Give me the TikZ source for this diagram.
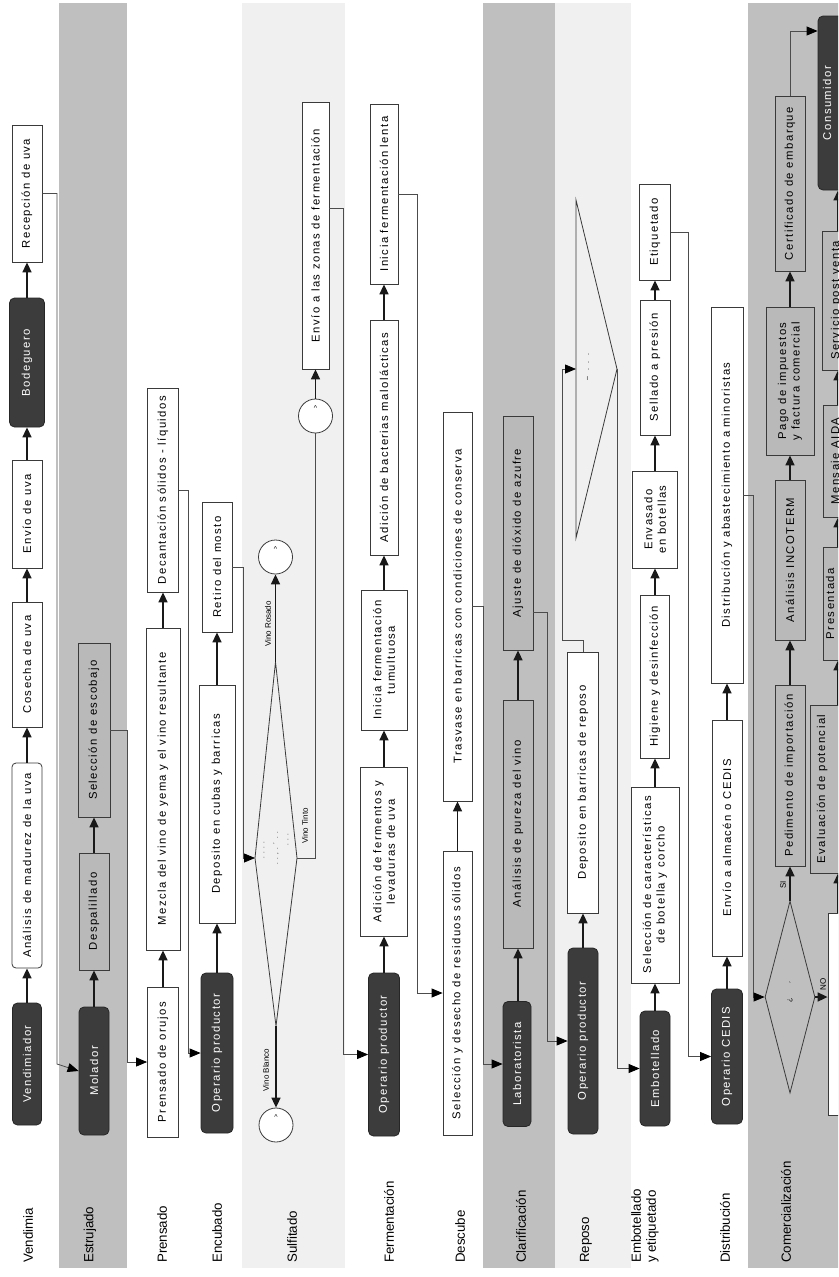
\documentclass[tikz,border=0pt]{standalone}
\usepackage{fontspec}
\setmainfont{Liberation Sans}
\newfontfamily\bxf{Liberation Sans}[LetterSpace=13]
\usetikzlibrary{arrows.meta,shapes.geometric}
\definecolor{lanegrey}{HTML}{BFBFBF}
\definecolor{lanelight}{HTML}{F0F0F0}
\definecolor{boxgrey}{HTML}{B9B9B9}
\definecolor{darkbox}{HTML}{3C3C3C}
\definecolor{edge}{HTML}{3A3A3A}
\newcommand\upby[2]{\raisebox{#1}[0pt][0pt]{#2}}
\begin{document}
\begin{tikzpicture}[x=1pt,y=-1pt,
  sz/.style 2 args={minimum width=#1pt, minimum height=#2pt},
  wbox/.style={draw=edge, line width=0.8pt, fill=white, rotate=90, inner sep=1pt, align=center, font=\bxf\fontsize{11.3}{13.5}\selectfont},
  gbox/.style={wbox, fill=boxgrey},
  rbox/.style={wbox, rounded corners=4pt},
  dbox/.style={wbox, fill=darkbox, draw=black!85, rounded corners=5pt, text=white},
  lane/.style={rotate=90, anchor=west, align=left, inner sep=0pt, font=\fontsize{13.3}{15}\selectfont},
  circ/.style={circle, draw=edge, line width=0.8pt, fill=white, minimum size=34pt, inner sep=0pt},
  arr/.style={line width=1.6pt, draw=black!90, -{Triangle[length=10pt,width=9pt]}},
  conn/.style={line width=0.8pt, draw=black!70, -{Triangle[length=11pt,width=9pt,color=black]}},
  plain/.style={line width=0.8pt, draw=black!70},
  tag/.style={rotate=90, font=\fontsize{8}{9}\selectfont, inner sep=0pt},
  cmark/.style={font=\fontsize{7}{7}\selectfont, inner sep=0pt},
]
\useasboundingbox (0,0) rectangle (838,1277);
\clip (0,0) rectangle (838,1277);
\fill[white] (0,0) rectangle (838,1277);
% lanes
\fill[lanegrey] (59,3) rectangle (127,1268);
\fill[lanelight] (242,3) rectangle (345,1268);
\fill[lanegrey] (483,3) rectangle (555,1268);
\fill[lanelight] (555,3) rectangle (631,1268);
\fill[lanegrey] (748,3) rectangle (845,1268);
% lane labels
\node[lane] (lVen) at (28,1263) {Vendimia};
\node[lane] (lEst) at (90,1263) {Estrujado};
\node[lane] (lPre) at (162,1263) {Prensado};
\node[lane] (lEnc) at (217,1263) {Encubado};
\node[lane] (lSul) at (292,1263) {Sulfitado};
\node[lane] (lFer) at (389,1263) {Fermentación};
\node[lane] (lDes) at (460,1263) {Descube};
\node[lane] (lCla) at (521,1263) {Clarificación};
\node[lane] (lRep) at (586,1263) {Reposo};
\node[lane] (lEmb) at (645,1263) {Embotellado\\y etiquetado};
\node[lane] (lDis) at (725,1263) {Distribución};
\node[lane] (lCom) at (786,1263) {Comercialización};
% Vendimia
\node[wbox, sz={137}{30}] (rec) at (27,193.5) {Recepción de uva};
\node[dbox, sz={129}{35}] (bod) at (27,362.5) {Bodeguero};
\node[wbox, sz={108}{30}] (env) at (27,514) {Envío de uva};
\node[wbox, sz={125}{30}] (cos) at (27,664.5) {Cosecha de uva};
\node[rbox, sz={205}{30}] (ana) at (27,865.5) {Análisis de madurez de la uva};
\node[dbox, sz={122}{29}] (vdr) at (27,1064) {Vendimiador};
% Estrujado
\node[dbox, sz={128}{30}] (mol) at (94,1071) {Molador};
\node[gbox, sz={117}{30}] (des) at (94,911.5) {Despalillado};
\node[gbox, sz={174}{32}] (esc) at (94,730) {Selección de escobajo};
% Prensado
\node[wbox, sz={150}{31}] (pre) at (163,1062) {Prensado de orujos};
\node[wbox, sz={322}{34}] (mez) at (163,789) {Mezcla del vino de yema y el vino resultante};
\node[wbox, sz={204}{31}] (dec) at (163,490) {Decantación sólidos - líquidos};
% Encubado
\node[dbox, sz={160}{32}] (op1) at (217,1053) {Operario productor};
\node[wbox, sz={238}{36}] (dcb) at (217,804) {Deposito en cubas y barricas};
\node[wbox, sz={130}{30}] (ret) at (217,567) {Retiro del mosto};
% Sulfitado
\coordinate (dT) at (275.5,662);
\coordinate (dL) at (255,858);
\coordinate (dB) at (276,1026);
\coordinate (dR) at (297,858);
\draw[draw=edge, line width=0.8pt] (dT) -- (dR) -- (dB) -- (dL) -- cycle;
\node[circ] (cRos) at (275.5,557) {};
\node[circ] (cBla) at (276,1125) {};
\node[circ] (cTin) at (315.5,416) {};
\node[cmark] (mRos) at (275.5,549) {\textasciicircum};
\node[cmark] (mBla) at (276,1117) {\textasciicircum};
\node[cmark] (mTin) at (315.5,408) {\textasciicircum};
\node[wbox, sz={267}{27}] (ezf) at (315.5,235.5) {Envío a las zonas de fermentación};
\node[tag] (tRos) at (268,624) {Vino Rosado};
\node[tag] (tBla) at (266,1070) {Vino Blanco};
\node[tag] (tTin) at (305,826) {Vino Tinto};
\node[tag, font=\fontsize{6}{7}\selectfont] (d1a) at (264,850) {.\ \ .\ \ .\ \ .};
\node[tag, font=\fontsize{6}{7}\selectfont] (d1b) at (276,848) {.\ \ .\ \ ,\ \ .\ \ ´\ \ .\ \ .};
\node[tag, font=\fontsize{6}{7}\selectfont] (d1c) at (288,840) {.\ \ .\ \ .};
% Fermentacion
\node[wbox, sz={180}{28}] (ifl) at (384,194) {Inicia fermentación lenta};
\node[wbox, sz={235}{28}] (abm) at (384,437.5) {Adición de bacterias malolácticas};
\node[wbox, sz={140}{46}] (ift) at (384,660) {Inicia fermentación\\tumultuosa};
\node[wbox, sz={169}{47}] (afl) at (384,851.5) {Adición de fermentos y\\levaduras de uva};
\node[dbox, sz={163}{31}] (fop) at (384,1054.5) {Operario productor};
% Descube
\node[wbox, sz={389}{29}] (tra) at (457.5,606.5) {Trasvase en barricas con condiciones de conserva};
\node[wbox, sz={284}{29}] (sdr) at (457.5,993) {Selección y desecho de residuos sólidos};
% Clarificacion
\node[dbox, sz={125}{28}] (lab) at (517,1064) {Laboratorista};
\node[gbox, sz={248}{30}] (apv) at (518,824) {Análisis de pureza del vino};
\node[gbox, sz={234}{30}] (ajs) at (518,533) {Ajuste de dióxido de azufre};
% Reposo
\node[dbox, sz={186}{30}] (rop) at (583,1041) {Operario productor};
\node[wbox, sz={261}{31}] (dbr) at (583,782.5) {Deposito en barricas de reposo};
\draw[draw=edge, line width=0.8pt] (576,200) -- (617,369) -- (576,538) -- cycle;
\coordinate (triB) at (576,369);
\coordinate (triA) at (617,369);
\coordinate (kR) at (562,640);
\node[tag, font=\fontsize{7}{8}\selectfont] (tdots) at (588,367) {--\ \ \ .\ \ \ .\ \ \ .};
% Embotellado
\node[dbox, sz={115}{30}] (emb) at (655,1068.5) {Embotellado};
\node[wbox, sz={196}{48}] (scb) at (655,885) {Selección de características\\de botella y corcho};
\node[wbox, sz={163}{29}] (hyd) at (655,676.5) {Higiene y desinfección};
\node[wbox, sz={97}{45}] (evb) at (655,519.5) {Envasado\\en botellas};
\node[wbox, sz={135}{30}] (sap) at (655,367.5) {Sellado a presión};
\node[wbox, sz={96}{31}] (eti) at (655,232) {Etiquetado};
% Distribucion
\node[dbox, sz={135}{31}] (ced) at (727,1056.5) {Operario CEDIS};
\node[wbox, sz={236}{30}] (eac) at (727,838) {Envío a almacén o CEDIS};
\node[wbox, sz={376}{32}] (dam) at (727,495) {Distribución y abastecimiento a minoristas};
% Comercializacion
\node[diamond, draw=edge, line width=0.8pt, minimum width=50pt, minimum height=192pt, inner sep=0pt] (dia2) at (790,997) {};
\node[tag, font=\fontsize{7}{8}\selectfont] (q1) at (790,1000) {¿};
\node[tag, font=\fontsize{7}{8}\selectfont] (q2) at (792,982) {´};
\node[gbox, sz={181}{30}] (ped) at (790,775.5) {Pedimento de importación};
\node[gbox, sz={160}{30}] (inc) at (790,560) {Análisis INCOTERM};
\node[gbox, sz={148}{48}] (pag) at (790,381) {Pago de impuestos\\y factura comercial};
\node[gbox, sz={175}{30}] (cer) at (790,183.5) {Certificado de embarque};
\node[dbox, sz={174}{40}] (con) at (838,103) {\upby{7pt}{Consumidor}};
\node[gbox, sz={139}{32}] (spv) at (838,300.5) {\upby{-1pt}{Servicio post venta}};
\node[gbox, sz={112}{30}] (aid) at (838,461) {\upby{-1pt}{Mensaje AIDA}};
\node[gbox, sz={113}{30}] (pst) at (838,603.5) {\upby{4pt}{Presentada}};
\node[gbox, sz={168}{56}] (evp) at (838,789) {\upby{13pt}{Evaluación de potencial}};
\node[wbox, sz={202}{20}] (nob) at (838,1014) {};
\node[tag] (tSI) at (783,885) {SI};
\node[tag] (tNO) at (823,984) {NO};
% arrows within lanes
\draw[arr] (vdr.east) -- (ana.west);
\draw[arr] (ana.east) -- (cos.west);
\draw[arr] (cos.east) -- (env.west);
\draw[arr] (env.east) -- (bod.west);
\draw[arr] (bod.east) -- (rec.west);
\draw[arr] (mol.east) -- (des.west);
\draw[arr] (des.east) -- (esc.west);
\draw[arr] (pre.east) -- (mez.west);
\draw[arr] (mez.east) -- (dec.west);
\draw[arr] (op1.east) -- (dcb.west);
\draw[arr] (dcb.east) -- (ret.west);
\draw[arr] (dT) -- (cRos.south);
\draw[arr] (dB) -- (cBla.north);
\draw[plain] (dR) -| (cTin.south);
\draw[arr] (cTin.north) -- (ezf.west);
\draw[arr] (fop.east) -- (afl.west);
\draw[arr] (afl.east) -- (ift.west);
\draw[arr] (ift.east) -- (abm.west);
\draw[arr] (abm.east) -- (ifl.west);
\draw[arr] (sdr.east) -- (tra.west);
\draw[arr] (lab.east -| apv.west) -- (apv.west);
\draw[arr] (apv.east) -- (ajs.west);
\draw[arr] (rop.east) -- (dbr.west);
\draw[arr] (emb.east) -- (scb.west);
\draw[arr] (scb.east) -- (hyd.west);
\draw[arr] (hyd.east) -- (evb.west);
\draw[arr] (evb.east) -- (sap.west);
\draw[arr] (sap.east) -- (eti.west);
\draw[arr] (ced.east) -- (eac.west);
\draw[arr] (eac.east) -- (dam.west);
\draw[arr] (dia2.north) -- (ped.west);
\draw[arr] (ped.east) -- (inc.west);
\draw[arr] (inc.east) -- (pag.west);
\draw[arr] (pag.east) -- (cer.west);
\draw[arr] (dia2.east) -- (dia2.east -| nob.north);
\draw[arr] (nob.east) -- (evp.west);
\draw[arr] (evp.east) -- (pst.west);
\draw[arr] (pst.east) -- (aid.west);
\draw[arr] (aid.east) -- (spv.west);
\draw[arr] (spv.east) -- (con.west);
% connectors between lanes
\draw[conn] (rec.south) -| (57,1064) -- (mol.north);
\draw[conn] (esc.south) -| (127,1062) -- (pre.north);
\draw[conn] (dec.south) -| (188,1053) -- (op1.north);
\draw[conn] (ret.south) -| (243,858) -- (dL);
\draw[conn] ([yshift=27pt]ezf.south) -| (343,1054.5) -- (fop.north);
\draw[conn] (ifl.south) -| (417,993) -- (sdr.north);
\draw[conn] (tra.south) -| (483,1064) -- (lab.north);
\draw[conn] ([yshift=-79pt]ajs.south) -| (547,1041) -- (rop.north);
\draw[conn] (dbr.east) |- (kR) |- (triB);
\draw[conn] (triA) |- (emb.north);
\draw[conn] (eti.south) -| (688,1056.5) -- (ced.north);
\draw[conn] (dam.south) -| (753,997) -- (dia2.west);
\draw[conn] (cer.east) |- ([yshift=72pt]con.north);
\end{tikzpicture}
\end{document}
